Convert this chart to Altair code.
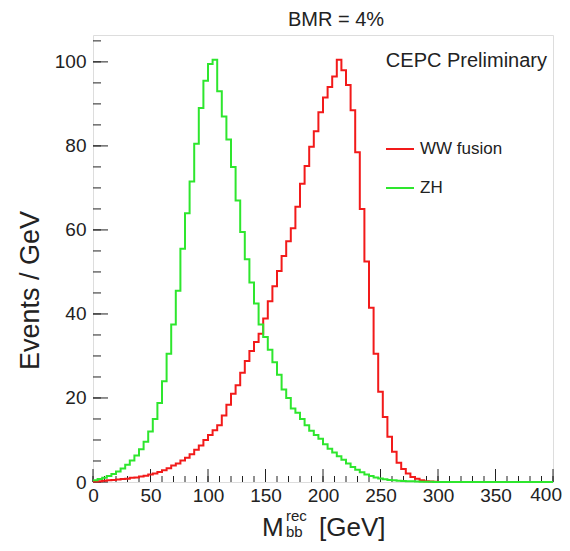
import altair as alt
import pandas as pd

FONT = "Liberation Sans"
TXT = "#222222"

# ---- data (4 GeV bins from 0 to 400) ----
bin_width = 4
ww_fusion = [
    0.1, 0.2, 0.3, 0.4, 0.5, 0.6, 0.7, 0.8, 1.0, 1.1,
    1.3, 1.5, 1.8, 2.0, 2.4, 2.8, 3.3, 3.9, 4.4, 5.1,
    5.8, 6.6, 7.7, 8.7, 10.0, 11.2, 12.3, 13.5, 15.8, 18.4,
    21.0, 23.0, 26.0, 28.8, 31.2, 33.3, 35.3, 38.9, 43.0, 46.6,
    50.2, 53.8, 57.3, 60.4, 65.5, 71.0, 75.2, 79.8, 83.5, 88.0,
    91.5, 94.0, 96.5, 100.5, 98.0, 94.5, 88.5, 78.5, 65.0, 52.5,
    41.5, 30.5, 21.5, 15.5, 10.8, 7.2, 4.6, 3.1, 2.0, 1.2,
    0.8, 0.4, 0.2, 0.1, 0.05, 0, 0, 0, 0, 0,
    0, 0, 0, 0, 0, 0, 0, 0, 0, 0,
    0, 0, 0, 0, 0, 0, 0, 0, 0, 0,
]
zh = [
    0.4, 0.7, 1.0, 1.4, 1.9, 2.5, 3.2, 4.1, 5.1, 6.3,
    7.8, 9.6, 12.0, 15.0, 18.8, 24.0, 30.5, 37.5, 45.5, 55.5,
    64.0, 71.5, 80.5, 89.0, 95.5, 99.5, 100.5, 93.0, 87.0, 81.5,
    75.0, 67.0, 59.5, 53.0, 47.5, 42.5, 37.5, 34.5, 31.5, 28.5,
    25.5, 22.0, 20.0, 17.5, 16.5, 15.0, 13.5, 12.2, 11.2, 10.3,
    9.0, 7.9, 7.0, 6.1, 5.3, 4.4, 3.6, 2.9, 2.3, 1.8,
    1.4, 1.1, 0.85, 0.65, 0.5, 0.4, 0.3, 0.25, 0.2, 0.15,
    0.1, 0.08, 0.05, 0.03, 0.02, 0, 0, 0, 0, 0,
    0, 0, 0, 0, 0, 0, 0, 0, 0, 0,
    0, 0, 0, 0, 0, 0, 0, 0, 0, 0,
]
series_names = ["WW fusion", "ZH"]
series_colors = ["#f21a1a", "#2ee62e"]

x_major = [0, 50, 100, 150, 200, 250, 300, 350, 400]
x_minor = list(range(0, 401, 10))
y_major = [0, 20, 40, 60, 80, 100]
y_minor = list(range(0, 106, 5))

rows = []
for name, vals in zip(series_names, [ww_fusion, zh]):
    for i, v in enumerate(vals):
        rows.append({"series": name, "x": i * bin_width, "y": v, "o": i})
    rows.append({"series": name, "x": len(vals) * bin_width, "y": vals[-1], "o": len(vals)})
df = pd.DataFrame(rows)

W, H = 460, 447
xs = alt.Scale(domain=[0, 400], nice=False, zero=False)
ys = alt.Scale(domain=[0, 106.4], nice=False, zero=False)

last_x = x_major[-1]
x_axis = alt.Axis(values=x_major, ticks=False, domain=False, grid=False, title=None,
                  labelFont=FONT, labelFontSize=19, labelColor=TXT, labelPadding=4,
                  labelFlush=False, labelOverlap=False, format="d",
                  labelExpr=f"datum.value == {last_x} ? '' : datum.label")
y_axis = alt.Axis(values=y_major, ticks=False, domain=False, grid=False,
                  title="Events / GeV", titleFont=FONT, titleFontSize=27,
                  titleFontWeight="normal", titleColor=TXT, titleX=-63, titleY=255,
                  titleAngle=270, titleBaseline="middle", titleAlign="center",
                  labelFont=FONT, labelFontSize=19, labelColor=TXT, labelPadding=7,
                  labelOverlap=False, format="d")

hist = alt.Chart(df).mark_line(interpolate="step-after", strokeWidth=2).encode(
    x=alt.X("x:Q", scale=xs, axis=x_axis),
    y=alt.Y("y:Q", scale=ys, axis=y_axis),
    color=alt.Color("series:N",
                    scale=alt.Scale(domain=series_names, range=series_colors),
                    legend=alt.Legend(orient="none", legendX=292, legendY=99, title=None,
                                      symbolType="stroke", symbolSize=784,
                                      symbolStrokeWidth=2, labelFont=FONT,
                                      labelFontSize=17, labelColor=TXT, labelOffset=5,
                                      rowPadding=16, padding=0)),
    order="o:Q",
)

# last x tick label, kept inside the page edge
last_label = alt.Chart(pd.DataFrame({"x": [last_x], "t": [str(last_x)]})).mark_text(
    font=FONT, fontSize=19, color=TXT, align="right", baseline="top", dx=9
).encode(x=alt.X("x:Q", scale=xs), y=alt.value(H + 4), text="t:N")

def xticks(vals, length):
    return alt.Chart(pd.DataFrame({"x": vals})).mark_rule(color=TXT, strokeWidth=1).encode(
        x=alt.X("x:Q", scale=xs), y=alt.value(H), y2=alt.value(H - length))

def yticks(vals, length):
    return alt.Chart(pd.DataFrame({"y": vals})).mark_rule(color=TXT, strokeWidth=1).encode(
        y=alt.Y("y:Q", scale=ys), x=alt.value(0), x2=alt.value(length))

def label(text, px, py, size, align="left"):
    return alt.Chart(pd.DataFrame({"t": [text]})).mark_text(
        font=FONT, fontSize=size, color=TXT, align=align, baseline="alphabetic"
    ).encode(x=alt.value(px), y=alt.value(py), text="t:N")

cepc = alt.Chart(pd.DataFrame({"t": ["CEPC Preliminary"]})).mark_text(
    font=FONT, fontSize=20, color=TXT, align="right", baseline="middle"
).encode(x=alt.value(454), y=alt.value(26), text="t:N")

chart = alt.layer(
    xticks(x_minor, 6), xticks(x_major, 13),
    yticks(y_minor, 8), yticks(y_major, 15),
    hist, last_label, cepc,
    label("BMR = 4%", 243, -9, 20, align="center"),
    label("M", 169, 501, 26), label("rec", 193, 486, 15), label("bb", 193, 502, 15),
    label("[GeV]", 226, 501, 26),
).properties(
    width=W, height=H,
    autosize=alt.AutoSizeParams(type="none"),
    padding={"left": 85, "top": 27, "right": 9, "bottom": 61},
).configure_view(stroke=TXT, strokeWidth=1).configure(background="white")

chart.save("out.html", embed_options={"renderer": "svg", "actions": False})
